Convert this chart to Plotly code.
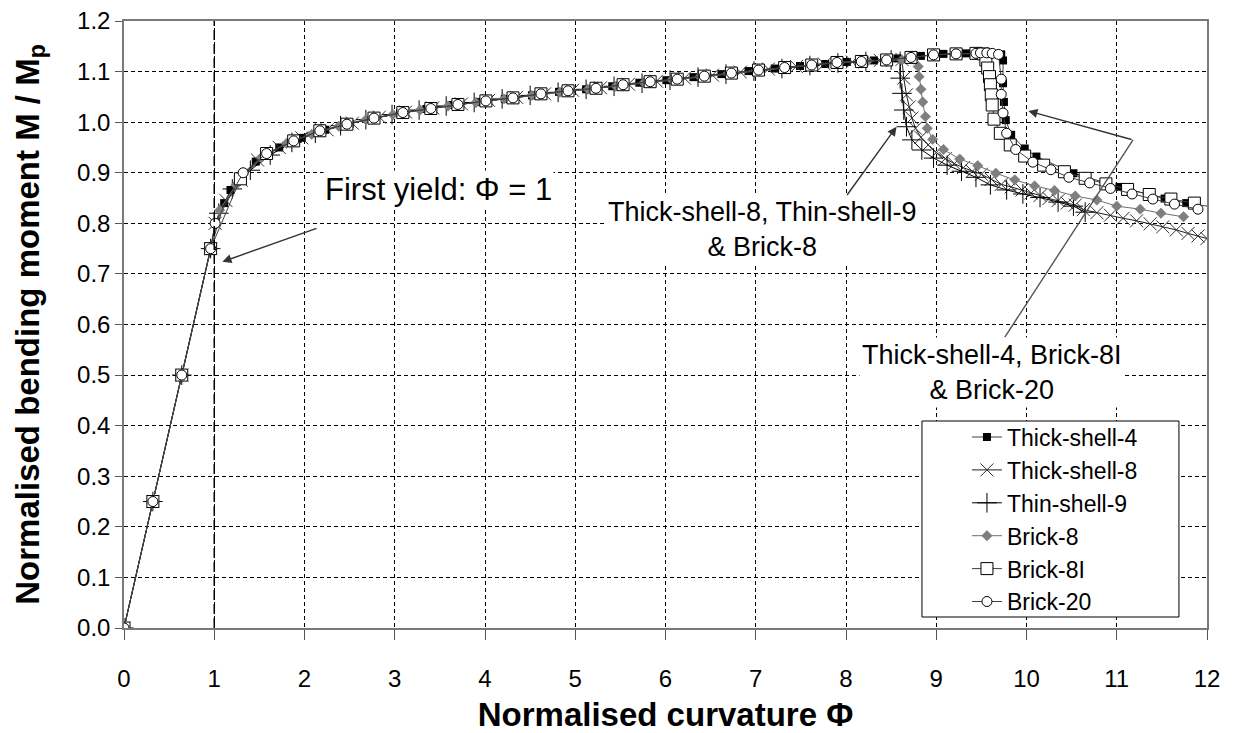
import plotly.graph_objects as go

# ---- Moment-curvature results (normalised curvature PHI, normalised moment M/Mp) ----
thick4_phi = [0, 0.32, 0.64, 0.96, 1.11, 1.18, 1.46, 1.72, 1.97, 2.23, 2.50, 2.78, 3.06, 3.35,
              3.64, 3.93, 4.22, 4.52, 4.82, 5.12, 5.41, 5.71, 6.01, 6.31, 6.62, 6.92, 7.21,
              7.49, 7.77, 8.01, 8.31, 8.57, 8.83, 9.08, 9.33, 9.56, 9.72, 9.74, 9.74, 9.75,
              9.77, 9.83, 9.98, 10.11, 10.52, 11.03, 11.53, 11.77, 12.08]
thick4_m = [0, 0.25, 0.50, 0.75, 0.840, 0.866, 0.922, 0.950, 0.969, 0.985, 0.997, 1.008, 1.018,
            1.026, 1.034, 1.040, 1.046, 1.053, 1.060, 1.065, 1.071, 1.078, 1.083, 1.089, 1.095,
            1.101, 1.106, 1.111, 1.115, 1.119, 1.122, 1.126, 1.131, 1.135, 1.136, 1.137, 1.134,
            1.122, 1.077, 1.040, 1.004, 0.975, 0.948, 0.932, 0.899, 0.872, 0.849, 0.840, 0.832]

thick8_phi = [0, 0.32, 0.64, 0.96, 1.01, 1.13, 1.30, 1.48, 1.72, 1.97, 2.25, 2.53, 2.83, 3.12,
              3.42, 3.74, 4.04, 4.35, 4.66, 4.97, 5.28, 5.59, 5.90, 6.21, 6.52, 6.83, 7.14,
              7.45, 7.76, 8.07, 8.38, 8.62, 8.64, 8.67, 8.70, 8.73, 8.77, 8.83, 8.91, 9.00,
              9.10, 9.20, 9.30, 9.40, 9.50, 9.61, 9.72, 9.83, 9.95, 10.05, 10.15, 10.25, 10.35,
              10.45, 10.54, 10.63, 10.78, 10.93, 11.07, 11.22, 11.37, 11.51, 11.66, 11.79,
              11.90, 12.0]
thick8_m = [0, 0.25, 0.50, 0.75, 0.80, 0.845, 0.885, 0.925, 0.950, 0.969, 0.985, 0.998, 1.010,
            1.020, 1.028, 1.036, 1.043, 1.049, 1.056, 1.063, 1.068, 1.075, 1.081, 1.087, 1.093,
            1.099, 1.105, 1.110, 1.115, 1.119, 1.122, 1.124, 1.087, 1.054, 1.030, 1.008, 0.988,
            0.970, 0.955, 0.940, 0.928, 0.918, 0.910, 0.903, 0.897, 0.887, 0.877, 0.872, 0.866,
            0.860, 0.855, 0.849, 0.845, 0.840, 0.836, 0.827, 0.821, 0.816, 0.810, 0.805, 0.799,
            0.793, 0.787, 0.780, 0.775, 0.770]

thin9_phi = [0, 0.32, 0.64, 0.96, 1.05, 1.20, 1.40, 1.62, 1.86, 2.12, 2.40, 2.68, 2.97, 3.27,
             3.57, 3.88, 4.19, 4.50, 4.81, 5.12, 5.43, 5.74, 6.05, 6.36, 6.67, 6.98, 7.29, 7.60,
             7.91, 8.22, 8.50, 8.60, 8.60, 8.62, 8.64, 8.67, 8.73, 8.84, 8.97, 9.12, 9.28, 9.44,
             9.60, 9.78, 9.96, 10.15, 10.35, 10.52, 10.65]
thin9_m = [0, 0.25, 0.50, 0.75, 0.82, 0.868, 0.905, 0.935, 0.960, 0.978, 0.993, 1.005, 1.015,
           1.024, 1.032, 1.039, 1.046, 1.053, 1.059, 1.065, 1.071, 1.077, 1.083, 1.089, 1.095,
           1.101, 1.106, 1.112, 1.117, 1.120, 1.123, 1.120, 1.087, 1.057, 1.024, 0.991, 0.965,
           0.945, 0.929, 0.915, 0.903, 0.891, 0.876, 0.866, 0.858, 0.851, 0.842, 0.834, 0.822]

brick8_phi = [0, 0.32, 0.64, 0.96, 1.06, 1.24, 1.52, 1.80, 2.08, 2.38, 2.68, 2.98, 3.28, 3.59,
              3.90, 4.21, 4.52, 4.83, 5.14, 5.45, 5.76, 6.07, 6.38, 6.69, 7.00, 7.31, 7.62,
              7.93, 8.24, 8.48, 8.62, 8.75, 8.80, 8.81, 8.83, 8.85, 8.88, 8.90, 8.96, 9.08,
              9.26, 9.46, 9.66, 9.87, 10.09, 10.31, 10.54, 10.78, 11.00, 11.26, 11.49, 11.74]
brick8_m = [0, 0.25, 0.50, 0.75, 0.826, 0.876, 0.930, 0.958, 0.976, 0.992, 1.005, 1.015, 1.024,
            1.032, 1.039, 1.046, 1.053, 1.059, 1.065, 1.071, 1.078, 1.084, 1.090, 1.096, 1.102,
            1.107, 1.113, 1.118, 1.121, 1.123, 1.123, 1.125, 1.110, 1.090, 1.065, 1.040, 1.011,
            0.988, 0.966, 0.946, 0.927, 0.914, 0.899, 0.886, 0.874, 0.865, 0.854, 0.846, 0.834,
            0.828, 0.820, 0.813]

brick8i_phi = [0, 0.32, 0.64, 0.96, 1.29, 1.58, 1.88, 2.17, 2.47, 2.77, 3.09, 3.40, 3.70, 4.01,
               4.31, 4.62, 4.92, 5.23, 5.53, 5.83, 6.13, 6.43, 6.73, 7.03, 7.32, 7.62, 7.90,
               8.17, 8.45, 8.72, 8.97, 9.22, 9.44, 9.52, 9.55, 9.57, 9.59, 9.60, 9.61, 9.62,
               9.64, 9.71, 9.82, 9.98, 10.19, 10.42, 10.65, 10.88, 11.12, 11.36, 11.60, 11.86]
brick8i_m = [0, 0.25, 0.50, 0.75, 0.888, 0.938, 0.963, 0.983, 0.996, 1.008, 1.019, 1.027, 1.035,
             1.042, 1.048, 1.056, 1.062, 1.067, 1.074, 1.080, 1.085, 1.091, 1.097, 1.103, 1.108,
             1.113, 1.118, 1.120, 1.123, 1.128, 1.133, 1.135, 1.136, 1.135, 1.123, 1.107, 1.090,
             1.074, 1.054, 1.034, 1.006, 0.978, 0.955, 0.933, 0.915, 0.902, 0.889, 0.878, 0.867,
             0.857, 0.848, 0.840]

brick20_phi = [0, 0.32, 0.64, 0.96, 1.01, 1.32, 1.58, 1.88, 2.17, 2.47, 2.77, 3.09, 3.40, 3.70,
               4.01, 4.31, 4.62, 4.92, 5.23, 5.53, 5.83, 6.13, 6.43, 6.73, 7.03, 7.32, 7.62,
               7.90, 8.17, 8.45, 8.72, 8.97, 9.22, 9.44, 9.49, 9.56, 9.62, 9.69, 9.72, 9.72,
               9.74, 9.78, 9.88, 10.07, 10.27, 10.47, 10.70, 10.93, 11.17, 11.40, 11.64, 11.90]
brick20_m = [0, 0.25, 0.50, 0.75, 0.80, 0.900, 0.938, 0.963, 0.983, 0.996, 1.008, 1.019, 1.027,
             1.035, 1.042, 1.048, 1.056, 1.062, 1.067, 1.074, 1.080, 1.085, 1.091, 1.097, 1.103,
             1.108, 1.113, 1.118, 1.120, 1.123, 1.128, 1.133, 1.135, 1.136, 1.137, 1.137, 1.136,
             1.134, 1.085, 1.055, 1.018, 0.978, 0.946, 0.921, 0.906, 0.891, 0.880, 0.869, 0.858,
             0.848, 0.838, 0.828]

first_yield_phi = 1.0
y_limits = [0.0, 1.2]

FONT = "Liberation Sans, Arial, sans-serif"

series = [
    ("Thick-shell-4", thick4_phi, thick4_m,
     dict(symbol="square", size=8, color="black", line=dict(width=0)), "#404040"),
    ("Thick-shell-8", thick8_phi, thick8_m,
     dict(symbol="x-thin", size=13, color="#303030", line=dict(width=1, color="#303030")), "#202020"),
    ("Thin-shell-9", thin9_phi, thin9_m,
     dict(symbol="cross-thin", size=14, color="black", line=dict(width=1, color="black")), "black"),
    ("Brick-8", brick8_phi, brick8_m,
     dict(symbol="diamond", size=8, color="#7f7f7f", line=dict(width=0.5, color="#6f6f6f")), "#6f6f6f"),
    ("Brick-8I", brick8i_phi, brick8i_m,
     dict(symbol="square", size=12, color="white", line=dict(width=1, color="black")), "#404040"),
    ("Brick-20", brick20_phi, brick20_m,
     dict(symbol="circle", size=10, color="white", line=dict(width=1, color="black")), "#404040"),
]

fig = go.Figure()

for name, xs, ys, marker, lcol in series:
    fig.add_trace(go.Scatter(
        x=xs, y=ys, name=name, mode="lines+markers",
        line=dict(color=lcol, width=1), marker=marker))

ann_font = dict(family=FONT, size=27, color="black")
arrow_col = "#333333"

annotations = [
    # text labels (white boxes)
    dict(x=3.48, y=0.866, xref="x", yref="y", text="First yield: Φ = 1", showarrow=False,
         font=dict(family=FONT, size=31, color="black"), bgcolor="white", borderpad=1),
    dict(x=7.08, y=0.787, xref="x", yref="y",
         text="Thick-shell-8, Thin-shell-9<br>& Brick-8", showarrow=False,
         font=ann_font, bgcolor="white", borderpad=2, align="center"),
    dict(x=9.62, y=0.506, xref="x", yref="y",
         text="Thick-shell-4, Brick-8I<br>& Brick-20", showarrow=False,
         font=ann_font, bgcolor="white", borderpad=2, align="center"),
    # arrows
    dict(x=1.09, y=0.724, ax=2.15, ay=0.791, xref="x", yref="y", axref="x", ayref="y",
         text="", showarrow=True, arrowhead=2, arrowsize=1.3, arrowwidth=1.4,
         arrowcolor=arrow_col),
    dict(x=8.56, y=0.991, ax=8.00, ay=0.853, xref="x", yref="y", axref="x", ayref="y",
         text="", showarrow=True, arrowhead=2, arrowsize=1.3, arrowwidth=1.4,
         arrowcolor=arrow_col),
    dict(x=10.02, y=1.022, ax=11.18, ay=0.965, xref="x", yref="y", axref="x", ayref="y",
         text="", showarrow=True, arrowhead=2, arrowsize=1.3, arrowwidth=1.4,
         arrowcolor=arrow_col),
]

shapes = [
    # first-yield reference line
    dict(type="line", xref="x", yref="y", x0=first_yield_phi, x1=first_yield_phi,
         y0=y_limits[0], y1=y_limits[1], line=dict(color="black", width=1.5, dash="10px,4px")),
    # leader from the lower label up to the arrow corner
    dict(type="line", xref="x", yref="y", x0=9.76, y0=0.575, x1=11.18, y1=0.965,
         line=dict(color="#555555", width=1.4)),
    # legend frame
    dict(type="rect", xref="paper", yref="paper", x0=0.7368, x1=0.9741, y0=0.0181, y1=0.341,
         fillcolor="white", line=dict(color="black", width=1), layer="above"),
]

axis_common = dict(showgrid=True, gridcolor="black", gridwidth=1, griddash="4px,3px",
                   zeroline=False, showline=True, linecolor="#7a7a7a", linewidth=1.5,
                   mirror=True, ticks="outside", tickcolor="#555555", automargin=False,
                   tickfont=dict(family=FONT, size=24, color="black"))

fig.update_layout(
    width=1239, height=733,
    margin=dict(l=124, r=32, t=21, b=105),
    paper_bgcolor="white", plot_bgcolor="white",
    font=dict(family=FONT, color="black"),
    xaxis=dict(range=[0, 12], dtick=1, tick0=0, ticklen=10,
               title=dict(text="<b>Normalised curvature Φ</b>",
                          font=dict(family=FONT, size=33), standoff=13),
               ticklabelstandoff=18, **axis_common),
    yaxis=dict(range=y_limits, dtick=0.1, tick0=0, tickformat=".1f", ticklen=7,
               title=dict(text="<b>Normalised bending moment M / M<sub>p</sub></b>",
                          font=dict(family=FONT, size=33), standoff=28),
               **axis_common),
    legend=dict(x=0.7368, y=0.350, xanchor="left", yanchor="top",
                bgcolor="rgba(0,0,0,0)", borderwidth=0,
                font=dict(family=FONT, size=23, color="black"),
                indentation=45),
    annotations=annotations,
    shapes=shapes,
    showlegend=True,
)

fig.write_html("out.html")
